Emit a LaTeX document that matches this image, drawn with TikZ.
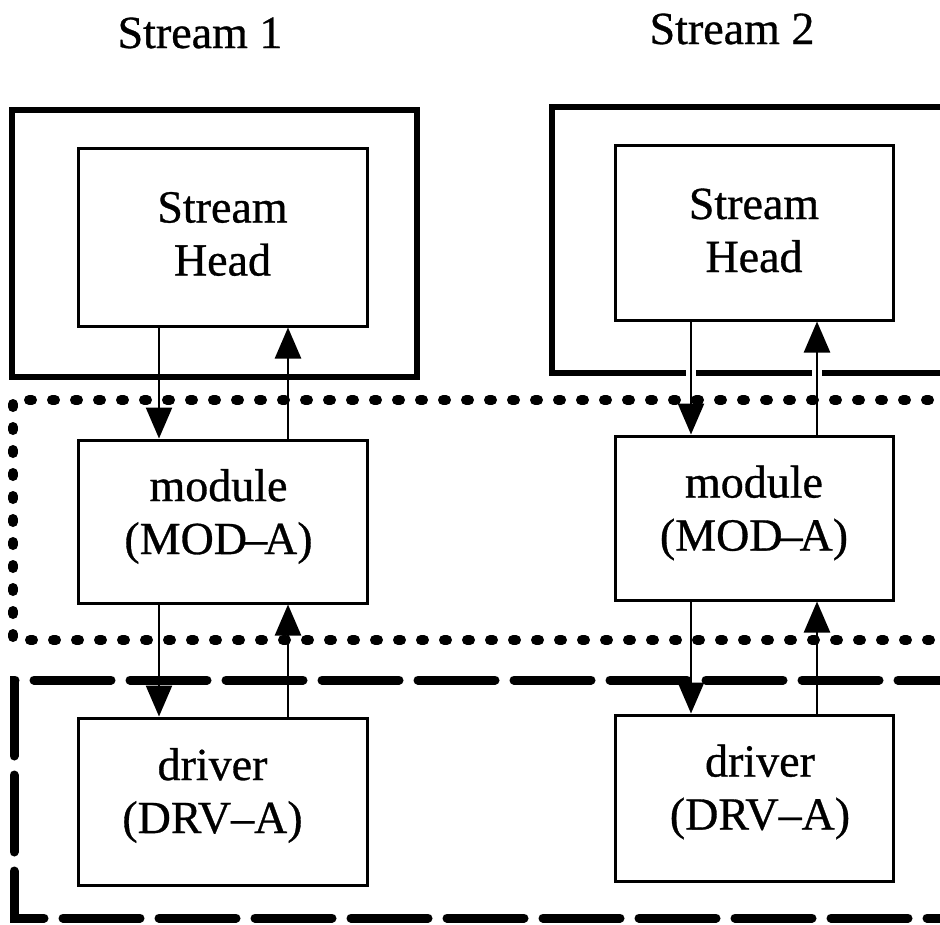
\documentclass[tikz,border=0pt]{standalone}
\usepackage{fontspec}
\setmainfont{Liberation Serif}[FakeBold=0.7]
\usetikzlibrary{arrows.meta,calc}
\begin{document}
\begin{tikzpicture}[x=1pt,y=-1pt,
  lbl/.style={font=\fontsize{46}{52}\selectfont, inner sep=0pt},
  txt/.style={font=\fontsize{46}{53}\selectfont, inner sep=0pt, align=center},
  inbox/.style={draw, line width=3pt, inner sep=0pt},
  outbox/.style={draw, line width=6.5pt},
  dotline/.style={line width=10pt, line cap=round, dash pattern=on 3pt off 20pt},
  dashline/.style={line width=9pt, line cap=round, dash pattern=on 77pt off 19pt},
  arr/.style={line width=2.5pt, -{Triangle[width=26pt,length=31pt]}},
  gapfill/.style={fill=white}]
\useasboundingbox (0,0) rectangle (940,924);

% column titles
\node[lbl] (t1) at (200,33) {Stream 1};
\node[lbl] (t2) at (732,29) {Stream 2};

% stream head enclosures
\draw[outbox] (12,110) rectangle (417,377);
\draw[outbox] (552,107) rectangle (980,373);

% module region (dotted) and driver region (dashed)
\draw[dotline] (975,400) -- (13,400) -- (13,640) -- (975,640);
\draw[dashline] (975,680) -- (14,680) -- (14,918) -- (975,918);

% stream 1 boxes
\node[inbox, minimum width=289pt, minimum height=178pt] (h1) at (222.5,237) {};
\node[inbox, minimum width=289pt, minimum height=163pt] (m1) at (222.5,521.5) {};
\node[inbox, minimum width=289pt, minimum height=167pt] (d1) at (222.5,801.5) {};

% stream 2 boxes
\node[inbox, minimum width=278pt, minimum height=175pt] (h2) at (754,232.5) {};
\node[inbox, minimum width=278pt, minimum height=164pt] (m2) at (754,518) {};
\node[inbox, minimum width=278pt, minimum height=166pt] (d2) at (754,798) {};

% box texts
\node[txt] (h1t) at ($(h1.center)+(0,-3)$) {Stream\\Head};
\node[txt] (m1t) at ($(m1.center)+(-4,-5)$) {module\\(MOD\kern-3pt--\kern-3pt A)};
\node[txt] (d1t) at ($(d1.center)+(-10,-6)$) {driver\\(DRV--A)};
\node[txt] (h2t) at ($(h2.center)+(0,-2)$) {Stream\\Head};
\node[txt] (m2t) at ($(m2.center)+(0,-5)$) {module\\(MOD\kern-3pt--\kern-3pt A)};
\node[txt] (d2t) at ($(d2.center)+(6,-6)$) {driver\\(DRV--A)};

% columns of the down and up channels
\coordinate (dn1) at (159,0);
\coordinate (up1) at (288,0);
\coordinate (dn2) at (691,0);
\coordinate (up2) at (817,0);

% breaks in the stream 2 enclosure where the channels pass
\fill[gapfill] (686,366) rectangle (696,381);
\fill[gapfill] (812,366) rectangle (822,381);

% stream 1 channels
\draw[arr] (dn1 |- h1.south) -- (dn1 |- m1.north);
\draw[arr] (up1 |- m1.north) -- (up1 |- h1.south);
\draw[arr] (dn1 |- m1.south) -- (dn1 |- d1.north);
\draw[arr] (up1 |- d1.north) -- (up1 |- m1.south);

% stream 2 channels
\draw[arr] (dn2 |- h2.south) -- (dn2 |- m2.north);
\draw[arr] (up2 |- m2.north) -- (up2 |- h2.south);
\draw[arr] (dn2 |- m2.south) -- (dn2 |- d2.north);
\draw[arr] (up2 |- d2.north) -- (up2 |- m2.south);
\end{tikzpicture}
\end{document}
